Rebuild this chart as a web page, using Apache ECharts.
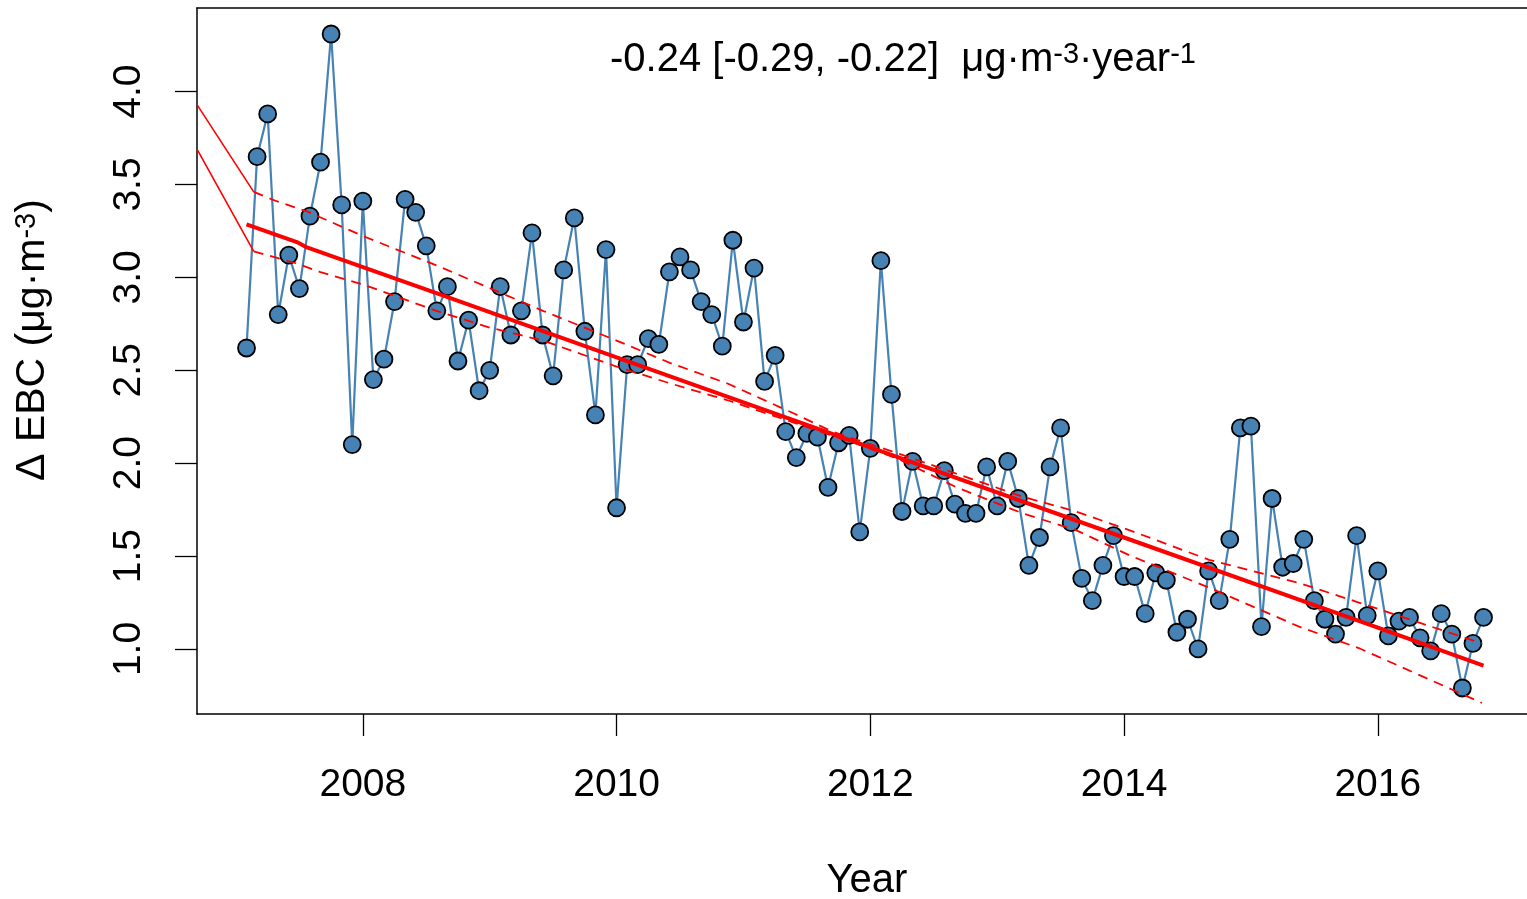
<!DOCTYPE html>
<html>
<head>
<meta charset="utf-8">
<script src="https://cdn.jsdelivr.net/npm/echarts@6/dist/echarts.min.js"></script>
<style>
html,body{margin:0;padding:0;background:#ffffff;}
#c{width:1527px;height:899px;}
</style>
</head>
<body>
<div id="c"></div>
<script>
// ---- Data ----
const months = [
  '2007-02','2007-03','2007-04','2007-05','2007-06','2007-07','2007-08','2007-09','2007-10','2007-11','2007-12',
  '2008-01','2008-02','2008-03','2008-04','2008-05','2008-06','2008-07','2008-08','2008-09','2008-10','2008-11','2008-12',
  '2009-01','2009-02','2009-03','2009-04','2009-05','2009-06','2009-07','2009-08','2009-09','2009-10','2009-11','2009-12',
  '2010-01','2010-02','2010-03','2010-04','2010-05','2010-06','2010-07','2010-08','2010-09','2010-10','2010-11','2010-12',
  '2011-01','2011-02','2011-03','2011-04','2011-05','2011-06','2011-07','2011-08','2011-09','2011-10','2011-11','2011-12',
  '2012-01','2012-02','2012-03','2012-04','2012-05','2012-06','2012-07','2012-08','2012-09','2012-10','2012-11','2012-12',
  '2013-01','2013-02','2013-03','2013-04','2013-05','2013-06','2013-07','2013-08','2013-09','2013-10','2013-11','2013-12',
  '2014-01','2014-02','2014-03','2014-04','2014-05','2014-06','2014-07','2014-08','2014-09','2014-10','2014-11','2014-12',
  '2015-01','2015-02','2015-03','2015-04','2015-05','2015-06','2015-07','2015-08','2015-09','2015-10','2015-11','2015-12',
  '2016-01','2016-02','2016-03','2016-04','2016-05','2016-06','2016-07','2016-08','2016-09','2016-10','2016-11'
];
const ebcValues = [
  2.62, 3.65, 3.88, 2.80, 3.12, 2.94, 3.33, 3.62, 4.31, 3.39, 2.10,
  3.41, 2.45, 2.56, 2.87, 3.42, 3.35, 3.17, 2.82, 2.95, 2.55, 2.77, 2.39,
  2.50, 2.95, 2.69, 2.82, 3.24, 2.69, 2.47, 3.04, 3.32, 2.71, 2.26, 3.15,
  1.76, 2.53, 2.53, 2.67, 2.64, 3.03, 3.11, 3.04, 2.87, 2.80, 2.63, 3.20,
  2.76, 3.05, 2.44, 2.58, 2.17, 2.03, 2.16, 2.14, 1.87, 2.11, 2.15, 1.63,
  2.08, 3.09, 2.37, 1.74, 2.01, 1.77, 1.77, 1.96, 1.78, 1.73, 1.73, 1.98,
  1.77, 2.01, 1.81, 1.45, 1.60, 1.98, 2.19, 1.68, 1.38, 1.26, 1.45, 1.61,
  1.39, 1.39, 1.19, 1.41, 1.37, 1.09, 1.16, 1.00, 1.42, 1.26, 1.59, 2.19,
  2.20, 1.12, 1.81, 1.44, 1.46, 1.59, 1.26, 1.16, 1.08, 1.17, 1.61, 1.18,
  1.42, 1.07, 1.15, 1.17, 1.06, 0.99, 1.19, 1.08, 0.79, 1.03, 1.17
];
// Theil-Sen trend (thick red line)
const trendYears  = [2007.083, 2007.48, 2007.56, 2008.58, 2010.0, 2012.0, 2014.0, 2016.0, 2016.833];
const trendValues = [3.285, 3.19, 3.161, 2.915, 2.57, 2.085, 1.60, 1.115, 0.91];
// Upper / lower confidence lines (dashed)
const upperYears  = [2007.14, 2007.32, 2007.56, 2008.01, 2008.58, 2008.87, 2009.42, 2010.0, 2010.42, 2010.87, 2011.39, 2011.70, 2012.23, 2013.20, 2013.62, 2014.04, 2014.67, 2015.38, 2015.85, 2016.82];
const upperValues = [3.46, 3.41, 3.355, 3.22, 3.065, 2.98, 2.82, 2.66, 2.54, 2.43, 2.27, 2.17, 2.05, 1.82, 1.74, 1.64, 1.48, 1.355, 1.25, 1.03];
const lowerYears  = [2007.14, 2007.48, 2007.66, 2008.01, 2008.58, 2009.0, 2009.42, 2010.0, 2010.42, 2010.87, 2011.39, 2011.91, 2012.23, 2012.68, 2013.20, 2013.62, 2014.04, 2014.67, 2015.38, 2015.85, 2016.82];
const lowerValues = [3.14, 3.075, 3.03, 2.96, 2.82, 2.73, 2.66, 2.52, 2.43, 2.34, 2.22, 2.10, 2.02, 1.87, 1.73, 1.64, 1.505, 1.33, 1.12, 1.005, 0.71];
// Solid lead-in segments at the left edge
const leadYears      = [2006.693, 2007.14];
const leadUpperVals  = [3.93, 3.46];
const leadLowerVals  = [3.69, 3.14];
// Tick labels
const xTicks = [2008, 2010, 2012, 2014, 2016];
const yTicks = [1.0, 1.5, 2.0, 2.5, 3.0, 3.5, 4.0];

// ---- Build series data ----
function monthToYear(s) {
  const p = s.split('-');
  return Number(p[0]) + (Number(p[1]) - 1) / 12;
}
const ebcData = months.map((m, i) => [monthToYear(m), ebcValues[i]]);
const zip = (xs, ys) => xs.map((x, i) => [x, ys[i]]);

const FONT = "'Liberation Sans', Arial, Helvetica, sans-serif";
const chart = echarts.init(document.getElementById('c'), null, {renderer: 'canvas'});

const frameLine = {show: true, onZero: false, lineStyle: {color: '#000', width: 1.5}};

chart.setOption({
  animation: false,
  backgroundColor: '#ffffff',
  grid: {left: 197, right: 0, top: 8, bottom: 185, show: false},
  xAxis: [
    {
      type: 'value', min: 2006.693, max: 2017.176, position: 'bottom',
      splitLine: {show: false},
      axisLine: frameLine,
      axisTick: {show: true, customValues: xTicks, length: 22, lineStyle: {color: '#000', width: 1.3}},
      axisLabel: {
        customValues: xTicks, margin: 52, color: '#000', fontSize: 39, fontFamily: FONT,
        formatter: v => String(Math.round(v))
      }
    },
    {
      type: 'value', min: 2006.693, max: 2017.176, position: 'top',
      splitLine: {show: false}, axisLine: frameLine,
      axisTick: {show: false}, axisLabel: {show: false}
    }
  ],
  yAxis: {
    type: 'value', min: 0.65, max: 4.45,
    splitLine: {show: false},
    axisLine: frameLine,
    axisTick: {show: true, customValues: yTicks, length: 22, lineStyle: {color: '#000', width: 1.3}},
    axisLabel: {
      customValues: yTicks, margin: 48, rotate: 90, color: '#000', fontSize: 39, fontFamily: FONT,
      formatter: v => Number(v).toFixed(1)
    }
  },
  series: [
    {
      type: 'line', data: ebcData, z: 2,
      symbol: 'circle', symbolSize: 17, showSymbol: true,
      lineStyle: {color: '#4682B4', width: 2.2},
      itemStyle: {color: '#4682B4', borderColor: '#000', borderWidth: 1.8},
      silent: true
    },
    {
      type: 'line', data: zip(trendYears, trendValues), z: 5, symbol: 'none',
      lineStyle: {color: '#FF0000', width: 4}, silent: true
    },
    {
      type: 'line', data: zip(upperYears, upperValues), z: 5, symbol: 'none',
      lineStyle: {color: '#FF0000', width: 1.8, type: [10, 7]}, silent: true
    },
    {
      type: 'line', data: zip(lowerYears, lowerValues), z: 5, symbol: 'none',
      lineStyle: {color: '#FF0000', width: 1.8, type: [10, 7]}, silent: true
    },
    {
      type: 'line', data: zip(leadYears, leadUpperVals), z: 5, symbol: 'none',
      lineStyle: {color: '#FF0000', width: 1.6}, silent: true
    },
    {
      type: 'line', data: zip(leadYears, leadLowerVals), z: 5, symbol: 'none',
      lineStyle: {color: '#FF0000', width: 1.6}, silent: true
    }
  ],
  graphic: [
    {
      type: 'text', x: 610, y: 60, z: 10,
      style: {
        text: '{n|-0.24 [-0.29, -0.22]  μg·m}{s|-3}{n|·year}{s|-1}',
        align: 'left', verticalAlign: 'middle',
        rich: {
          n: {fontSize: 40, fontFamily: FONT, fill: '#000', color: '#000'},
          s: {fontSize: 29, fontFamily: FONT, fill: '#000', color: '#000', verticalAlign: 'top'}
        }
      }
    },
    {
      type: 'text', x: 867, y: 881, z: 10,
      style: {text: 'Year', align: 'center', verticalAlign: 'middle', fontSize: 40, fontFamily: FONT, fill: '#000'}
    },
    {
      type: 'text', x: 33, y: 340, rotation: Math.PI / 2, z: 10,
      style: {
        text: '{n|Δ EBC (μg·m}{s|-3}{n|)}',
        align: 'center', verticalAlign: 'middle',
        rich: {
          n: {fontSize: 41, fontFamily: FONT, fill: '#000', color: '#000'},
          s: {fontSize: 29, fontFamily: FONT, fill: '#000', color: '#000', verticalAlign: 'top'}
        }
      }
    }
  ]
});
</script>
</body>
</html>
